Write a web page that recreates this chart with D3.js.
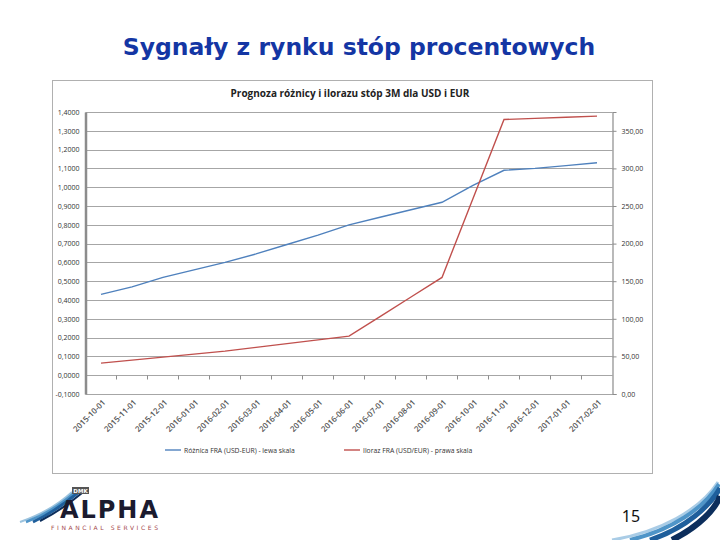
<!DOCTYPE html>
<html>
<head>
<meta charset="utf-8">
<script src="https://cdn.jsdelivr.net/npm/d3@7/dist/d3.min.js"></script>
<style>
  body { margin: 0; background: #fff; }
  svg { display: block; }
</style>
</head>
<body>
<svg width="720" height="540"></svg>
<script>
// dane
var months = ["2015-10-01", "2015-11-01", "2015-12-01", "2016-01-01", "2016-02-01", "2016-03-01",
  "2016-04-01", "2016-05-01", "2016-06-01", "2016-07-01", "2016-08-01", "2016-09-01",
  "2016-10-01", "2016-11-01", "2016-12-01", "2017-01-01", "2017-02-01"];

// roznica FRA (USD-EUR) - lewa skala
var roznica = [0.43, 0.47, 0.52, 0.56, 0.60, 0.645, 0.695, 0.745, 0.80, 0.84, 0.88, 0.92,
  1.01, 1.09, 1.10, 1.115, 1.13];

// iloraz FRA (USD/EUR) - prawa skala
var iloraz = [41, 45, 49, 53, 57, 62, 67, 72, 77, 103, 129, 155, 260, 365, 366.5, 368, 369.5];

var leftTicks = [-0.1, 0, 0.1, 0.2, 0.3, 0.4, 0.5, 0.6, 0.7, 0.8, 0.9, 1.0, 1.1, 1.2, 1.3, 1.4];
var rightTicks = [0, 50, 100, 150, 200, 250, 300, 350];

var seriesNames = ["Różnica FRA (USD-EUR) - lewa skala", "Iloraz FRA (USD/EUR) - prawa skala"];
var colors = ["#4f81bd", "#c0504d"];

var svg = d3.select("svg");

// tytul slajdu
svg.append("text")
  .attr("x", 359).attr("y", 55)
  .attr("text-anchor", "middle")
  .attr("font-family", "DejaVu Sans, Verdana, sans-serif")
  .attr("font-weight", "bold")
  .attr("font-size", 23.5)
  .attr("fill", "#1436a4")
  .text("Sygnały z rynku stóp procentowych");

// ramka wykresu
svg.append("rect")
  .attr("x", 52.5).attr("y", 80.5)
  .attr("width", 600).attr("height", 393)
  .attr("fill", "#fff")
  .attr("stroke", "#b0b0b0");

svg.append("text")
  .attr("x", 350).attr("y", 97)
  .attr("text-anchor", "middle")
  .attr("font-family", "Open Sans, sans-serif")
  .attr("font-weight", "bold")
  .attr("font-size", 10)
  .attr("fill", "#222")
  .text("Prognoza różnicy i ilorazu  stóp 3M dla USD i EUR");

// skale
var plotL = 85.5, plotR = 612.5, plotT = 112, plotB = 394;
var x = d3.scaleBand().domain(months).range([plotL, plotR]);
var yL = d3.scaleLinear().domain([-0.1, 1.4]).range([plotB, plotT]);
var yR = d3.scaleLinear().domain([0, 375]).range([plotB, plotT]);
var cx = function(d) { return x(d) + x.bandwidth() / 2; };

var fmtL = function(v) { return d3.format(".4f")(v).replace(".", ",").replace("−", "-"); };
var fmtR = function(v) { return d3.format(".2f")(v).replace(".", ","); };

// siatka
svg.append("g")
  .selectAll("line")
  .data(leftTicks)
  .enter()
  .append("line")
  .attr("x1", plotL).attr("x2", plotR)
  .attr("y1", function(d) { return Math.round(yL(d)) + 0.5; })
  .attr("y2", function(d) { return Math.round(yL(d)) + 0.5; })
  .attr("stroke", "#a6a6a6")
  .attr("stroke-width", 1.2);

// lewa os
var axL = svg.append("g")
  .attr("transform", "translate(" + plotL + ",0)")
  .call(d3.axisLeft(yL).tickValues(leftTicks).tickFormat(fmtL).tickSize(0).tickPadding(6));
axL.select(".domain").attr("stroke", "#8c8c8c").attr("stroke-width", 2.5);
axL.selectAll("text").attr("font-family", "Open Sans, sans-serif").attr("font-size", 7).attr("fill", "#333");

// prawa os
var axR = svg.append("g")
  .attr("transform", "translate(" + plotR + ",0)")
  .call(d3.axisRight(yR).tickValues(rightTicks).tickFormat(fmtR).tickSize(4).tickPadding(5));
axR.select(".domain").attr("stroke", "#8c8c8c").attr("stroke-width", 1.2);
axR.selectAll("line").attr("stroke", "#8c8c8c");
axR.selectAll("text").attr("font-family", "Open Sans, sans-serif").attr("font-size", 7).attr("fill", "#333");

// os kategorii na poziomie zera
var zeroY = Math.round(yL(0)) + 0.5;
svg.append("g")
  .selectAll("line")
  .data(months.slice(1))
  .enter()
  .append("line")
  .attr("x1", function(d) { return x(d); })
  .attr("x2", function(d) { return x(d); })
  .attr("y1", zeroY).attr("y2", zeroY + 4)
  .attr("stroke", "#8c8c8c");

svg.append("g")
  .selectAll("text")
  .data(months)
  .enter()
  .append("text")
  .attr("transform", function(d) { return "translate(" + (cx(d) + 5) + "," + (plotB + 9) + ") rotate(-45)"; })
  .attr("text-anchor", "end")
  .attr("font-family", "Open Sans, sans-serif")
  .attr("font-weight", 600)
  .attr("font-size", 8)
  .attr("fill", "#555")
  .text(function(d) { return d; });

// linie
var lineL = d3.line().x(function(d, i) { return cx(months[i]); }).y(function(d) { return yL(d); });
var lineR = d3.line().x(function(d, i) { return cx(months[i]); }).y(function(d) { return yR(d); });

svg.append("path")
  .datum(roznica)
  .attr("d", lineL)
  .attr("fill", "none")
  .attr("stroke", colors[0])
  .attr("stroke-width", 1.4);

svg.append("path")
  .datum(iloraz)
  .attr("d", lineR)
  .attr("fill", "none")
  .attr("stroke", colors[1])
  .attr("stroke-width", 1.4);

// legenda
var legX = [165, 344];
var leg = svg.append("g")
  .selectAll("g")
  .data(seriesNames)
  .enter()
  .append("g")
  .attr("transform", function(d, i) { return "translate(" + legX[i] + ",450)"; });
leg.append("line")
  .attr("x1", 0).attr("x2", 16)
  .attr("stroke", function(d, i) { return colors[i]; })
  .attr("stroke-width", 1.4);
leg.append("text")
  .attr("x", 19).attr("y", 2.5)
  .attr("font-family", "Open Sans, sans-serif")
  .attr("font-size", 6.8)
  .attr("fill", "#333")
  .text(function(d) { return d; });

// logo ALPHA
var logo = svg.append("g");
var swooshL = [
  {d: "M20,522 C40,515 58,505 72,492", c: "#9cc3de", w: 2},
  {d: "M26,522 C44,515 62,504 76,491", c: "#4f95c8", w: 2.5},
  {d: "M33,522 C50,514 66,503 80,491", c: "#1f5f9c", w: 3},
  {d: "M40,521 C56,513 70,503 82,493", c: "#0c2e5c", w: 2}
];
logo.selectAll("path")
  .data(swooshL)
  .enter()
  .append("path")
  .attr("d", function(d) { return d.d; })
  .attr("fill", "none")
  .attr("stroke", function(d) { return d.c; })
  .attr("stroke-width", function(d) { return d.w; });
logo.append("rect")
  .attr("x", 72).attr("y", 487).attr("width", 17).attr("height", 7)
  .attr("fill", "#555");
logo.append("text")
  .attr("x", 80.5).attr("y", 492.5)
  .attr("text-anchor", "middle")
  .attr("font-family", "DejaVu Sans, sans-serif")
  .attr("font-weight", "bold")
  .attr("font-size", 5.5)
  .attr("fill", "#fff")
  .text("DMK");
logo.append("text")
  .attr("x", 60).attr("y", 518)
  .attr("font-family", "DejaVu Sans, sans-serif")
  .attr("font-weight", "bold")
  .attr("font-size", 24)
  .attr("textLength", 98)
  .attr("fill", "#1b1b2f")
  .text("ALPHA");
logo.append("text")
  .attr("x", 51).attr("y", 530)
  .attr("font-family", "DejaVu Sans, sans-serif")
  .attr("font-size", 6)
  .attr("textLength", 107)
  .attr("fill", "#a5494e")
  .text("FINANCIAL SERVICES");

// numer slajdu
svg.append("text")
  .attr("x", 631).attr("y", 522)
  .attr("text-anchor", "middle")
  .attr("font-family", "Liberation Sans Narrow, Noto Sans, sans-serif")
  .attr("font-size", 16)
  .attr("fill", "#111")
  .text("15");

// naroznik
var swooshR = [
  {d: "M612,540 C660,532 700,510 718,482", c: "#a9cce6", w: 3},
  {d: "M630,540 C672,530 704,508 719,484", c: "#4f95c8", w: 4},
  {d: "M650,540 C686,528 710,506 720,488", c: "#1f5f9c", w: 5},
  {d: "M672,540 C700,526 716,508 720,496", c: "#0c2e5c", w: 6}
];
svg.append("g")
  .selectAll("path")
  .data(swooshR)
  .enter()
  .append("path")
  .attr("d", function(d) { return d.d; })
  .attr("fill", "none")
  .attr("stroke", function(d) { return d.c; })
  .attr("stroke-width", function(d) { return d.w; });
</script>
</body>
</html>
